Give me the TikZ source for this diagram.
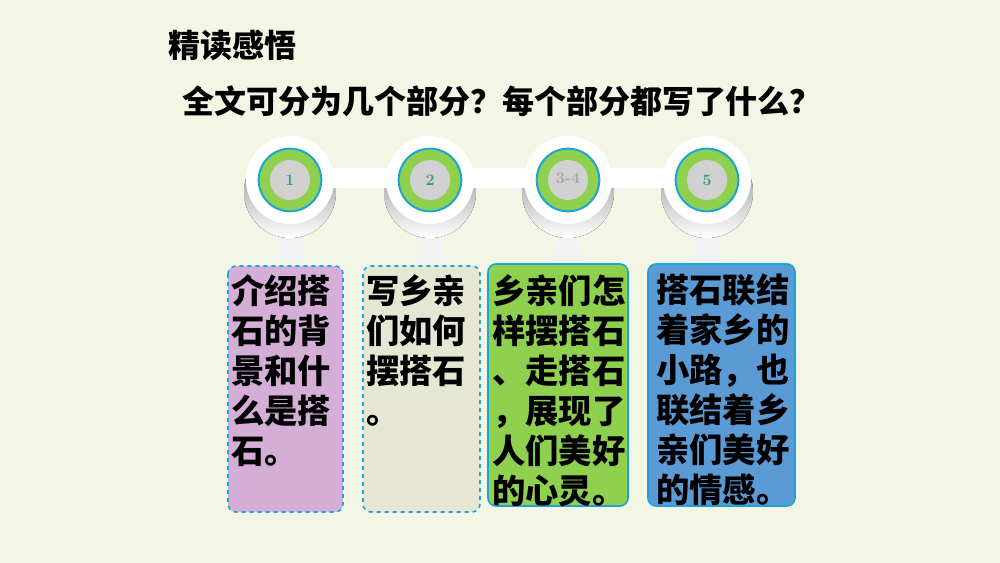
\documentclass[tikz,border=0pt]{standalone}
\usepackage{fontspec}
\newfontfamily\cjk{Noto Sans CJK SC}
\definecolor{bg}{HTML}{F3F6E5}
\definecolor{ringgreen}{HTML}{8FD14F}
\definecolor{ringblue}{HTML}{1AA5D8}
\definecolor{shade}{HTML}{8E8E84}
\definecolor{numgreen}{HTML}{3A9A78}
\definecolor{cardpurple}{HTML}{D4AED6}
\definecolor{cardgrey}{HTML}{E6E7D3}
\definecolor{cardblue}{HTML}{5B9BD5}
\begin{document}
\begin{tikzpicture}[x=0.75pt,y=-0.75pt,
  disc/.style={circle,fill=white,minimum size=66pt},
  ring/.style={circle,fill=ringgreen,draw=ringblue,line width=1.5pt,minimum size=47pt,inner sep=0pt},
  num/.style={circle,fill=black!18,minimum size=30pt,inner sep=0pt,text=numgreen,font=\bfseries\large},
  card/.style={rounded corners=6pt,draw=ringblue,line width=1.2pt},
  cardtext/.style={anchor=north west,align=left,font=\cjk\bfseries\fontsize{25}{30}\selectfont,inner sep=0pt}]
  \useasboundingbox[fill=bg] (0,0) rectangle (1000,563);
  % titles
  \node (title) at (232,45) {\cjk\bfseries\fontsize{24}{28}\selectfont 精读感悟};
  \node (quest) at (502,101) {\cjk\bfseries\fontsize{24}{28}\selectfont 全文可分为几个部分？每个部分都写了什么？};
  % timeline
  \foreach \x in {290,430,568,707} {
    \fill[black!5] (\x-8,215) -- (\x+8,215) -- (\x+14,262) -- (\x-14,262) -- cycle;
    \fill[shade] (\x,192) circle (46);
  }
  \foreach \x in {290,430,568} \fill[white] (\x,168) rectangle (\x+139,188);
  \foreach \x/\n/\t in {290/a/1,430/b/2,568/c/,707/d/5} {
    \node[disc] (disc\n) at (\x,180) {};
    \node[ring] (ring\n) at (\x,180) {};
    \node[num] (num\n) at (\x,180) {\t};
  }
  \node[text=black!35,font=\bfseries\large] (numc3) at (568,178) {3-4};
  % cards
  \draw[card,dashed,fill=cardpurple] (228,266) rectangle (343,512);
  \draw[card,dashed,fill=cardgrey] (363,266) rectangle (480,512);
  \draw[card,fill=ringgreen] (488,264) rectangle (628,506);
  \draw[card,fill=cardblue] (648,264) rectangle (795,506);
  \node[cardtext] (txtA) at (231,274) {介绍搭\\石的背\\景和什\\么是搭\\石。};
  \node[cardtext] (txtB) at (366,274) {写乡亲\\们如何\\摆搭石\\。};
  \node[cardtext] (txtC) at (492,274) {乡亲们怎\\样摆搭石\\、走搭石\\，展现了\\人们美好\\的心灵。};
  \node[cardtext] (txtD) at (656,274) {搭石联结\\着家乡的\\小路，也\\联结着乡\\亲们美好\\的情感。};
\end{tikzpicture}
\end{document}
